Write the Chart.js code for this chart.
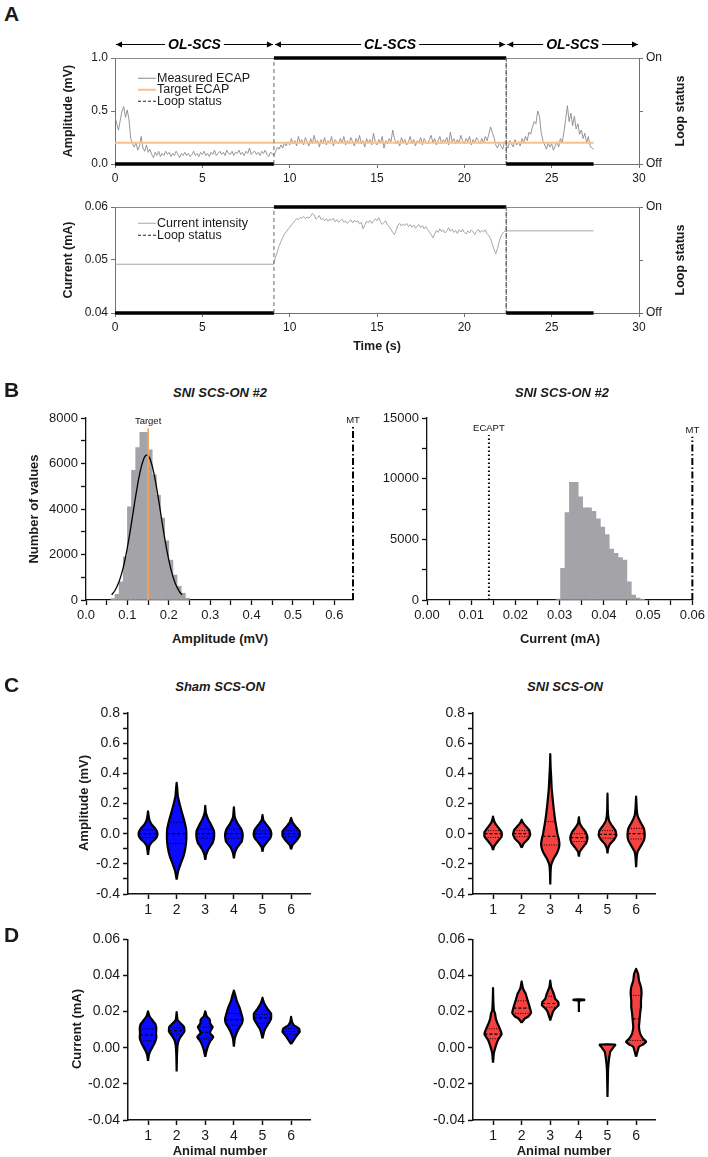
<!DOCTYPE html>
<html>
<head>
<meta charset="utf-8">
<title>SCS closed-loop ECAP figure</title>
<script src="https://cdn.jsdelivr.net/npm/chart.js@4.4.1/dist/chart.umd.min.js"></script>
<style>
  html, body { margin: 0; padding: 0; background: #fff; }
  body { position: relative; width: 708px; height: 1157px; overflow: hidden;
         font-family: "Liberation Sans", Arial, Helvetica, sans-serif; color: #1a1a1a; }
  .box { position: absolute; }
  .t { position: absolute; white-space: nowrap; line-height: 1; transform: translate(-50%, -50%); }
  .letter { font-weight: bold; font-size: 21px; transform: translate(0, -50%); }
  .title { font-weight: bold; font-style: italic; font-size: 13px; }
  .axt { font-weight: bold; font-size: 13px; }
  .axa { font-weight: bold; font-size: 12.5px; }
  .rot { transform: translate(-50%, -50%) rotate(-90deg); }
  .leg { position: absolute; font-size: 12.5px; line-height: 1; white-space: nowrap; transform: translateY(-50%); }
  .leg i { display: inline-block; width: 18px; height: 0; vertical-align: middle; margin-right: 1px; }
</style>
</head>
<body>
<script>
// ---------- panel A : ECAP trace and current ----------
const ecapStep = 0.1; // seconds between samples
const ecapValues = [
  0.45, 0.38, 0.32, 0.41, 0.50, 0.54, 0.44, 0.51, 0.42, 0.24,
  0.19, 0.16, 0.20, 0.13, 0.17, 0.26, 0.15, 0.12, 0.18, 0.11,
  0.14, 0.09, 0.06, 0.11, 0.08, 0.12, 0.07, 0.10, 0.08, 0.12,
  0.09, 0.11, 0.07, 0.10, 0.08, 0.12, 0.09, 0.06, 0.10, 0.08,
  0.11, 0.08, 0.10, 0.07, 0.09, 0.12, 0.08, 0.10, 0.07, 0.11,
  0.09, 0.12, 0.08, 0.10, 0.07, 0.11, 0.09, 0.13, 0.08, 0.10,
  0.12, 0.09, 0.11, 0.08, 0.13, 0.10, 0.09, 0.12, 0.08, 0.11,
  0.10, 0.13, 0.09, 0.11, 0.08, 0.12, 0.10, 0.15, 0.09, 0.11,
  0.12, 0.09, 0.11, 0.08, 0.12, 0.10, 0.13, 0.09, 0.07, 0.11,
  0.10, 0.08, 0.12, 0.16, 0.14, 0.18, 0.15, 0.20, 0.17, 0.21,
  0.18, 0.24, 0.19, 0.22, 0.17, 0.26, 0.20, 0.23, 0.18, 0.25,
  0.21, 0.17, 0.24, 0.19, 0.27, 0.20, 0.22, 0.16, 0.23, 0.19,
  0.25, 0.18, 0.22, 0.20, 0.26, 0.17, 0.23, 0.21, 0.19, 0.24,
  0.20, 0.26, 0.18, 0.22, 0.19, 0.25, 0.21, 0.17, 0.24, 0.20,
  0.27, 0.19, 0.22, 0.16, 0.24, 0.20, 0.23, 0.18, 0.29, 0.21,
  0.18, 0.23, 0.20, 0.26, 0.15, 0.22, 0.19, 0.24, 0.21, 0.32,
  0.24, 0.19, 0.22, 0.17, 0.25, 0.20, 0.23, 0.18, 0.21, 0.26,
  0.19, 0.23, 0.17, 0.22, 0.20, 0.25, 0.18, 0.24, 0.21, 0.19,
  0.23, 0.27, 0.20, 0.24, 0.18, 0.22, 0.26, 0.19, 0.23, 0.21,
  0.25, 0.18, 0.30, 0.21, 0.24, 0.19, 0.23, 0.20, 0.27, 0.22,
  0.19, 0.24, 0.21, 0.26, 0.18, 0.23, 0.20, 0.25, 0.22, 0.19,
  0.24, 0.20, 0.26, 0.22, 0.28, 0.35, 0.30, 0.25, 0.18, 0.15,
  0.20, 0.17, 0.14, 0.21, 0.18, 0.15, 0.22, 0.19, 0.16, 0.23,
  0.18, 0.21, 0.17, 0.24, 0.20, 0.26, 0.22, 0.30, 0.28, 0.35,
  0.40, 0.38, 0.50, 0.45, 0.30, 0.22, 0.18, 0.14, 0.20, 0.16,
  0.19, 0.13, 0.17, 0.21, 0.16, 0.24, 0.20, 0.30, 0.42, 0.55,
  0.40, 0.48, 0.36, 0.45, 0.33, 0.38, 0.28, 0.32, 0.24, 0.29,
  0.20, 0.26, 0.17, 0.15, 0.14
];
const targetEcap = 0.2;
const traceEnd = 27.4;

const loopTimes = [0, 9.1, 9.1, 22.4, 22.4, 27.4];
const loopState = [0, 0, 1, 1, 0, 0];
const loopTicks = [0, 0.5, 1];
const loopTickLabels = ['Off', '', 'On'];

const phaseStart = [0, 9.1, 22.4];
const phaseEnd = [9.1, 22.4, 30];
const phaseLabels = ['OL-SCS', 'CL-SCS', 'OL-SCS'];

const timeTicks = [0, 5, 10, 15, 20, 25, 30];
const ampTicksA = [0, 0.5, 1];
const currentTicksA = [0.04, 0.05, 0.06];

const currentOpenLevels = [0.0492, 0.0555]; // before / after closed loop
const clStart = 9.1;
const clStep = 0.1;
const clCurrent = [
  0.0495, 0.0506, 0.0516, 0.0527, 0.0535, 0.0542, 0.0549, 0.0553, 0.0558,
  0.0561, 0.0566, 0.0570, 0.0574, 0.0578, 0.0576, 0.0580, 0.0579, 0.0582, 0.0578,
  0.0581, 0.0579, 0.0583, 0.0588, 0.0585, 0.0577, 0.0580, 0.0584, 0.0576, 0.0579,
  0.0574, 0.0578, 0.0573, 0.0577, 0.0575, 0.0579, 0.0572, 0.0576, 0.0571, 0.0574,
  0.0577, 0.0571, 0.0574, 0.0569, 0.0573, 0.0576, 0.0570, 0.0575, 0.0572, 0.0574,
  0.0568, 0.0571, 0.0559, 0.0566, 0.0573, 0.0570, 0.0575, 0.0569, 0.0573, 0.0578,
  0.0574, 0.0580, 0.0572, 0.0567, 0.0571, 0.0574, 0.0566, 0.0563, 0.0558, 0.0552,
  0.0548, 0.0556, 0.0566, 0.0569, 0.0564, 0.0568, 0.0565, 0.0569, 0.0563, 0.0567,
  0.0562, 0.0566, 0.0560, 0.0564, 0.0567, 0.0561, 0.0565, 0.0559, 0.0563, 0.0557,
  0.0553, 0.0548, 0.0542, 0.0549, 0.0556, 0.0552, 0.0559, 0.0553, 0.0557, 0.0551,
  0.0555, 0.0561, 0.0554, 0.0558, 0.0552, 0.0556, 0.0550, 0.0557, 0.0553, 0.0558,
  0.0552, 0.0549, 0.0555, 0.0551, 0.0557, 0.0553, 0.0548, 0.0554, 0.0558, 0.0552,
  0.0556, 0.0553, 0.0557, 0.0550, 0.0546, 0.0540, 0.0530, 0.0520, 0.0512, 0.0522,
  0.0535, 0.0545, 0.0551, 0.0554, 0.0555
];

// ---------- panel B : histograms ----------
const ampBinCenters = [0.065, 0.075, 0.085, 0.095, 0.105, 0.115, 0.125, 0.135, 0.145, 0.155,
                       0.165, 0.175, 0.185, 0.195, 0.205, 0.215, 0.225, 0.235, 0.245];
const ampCounts = [60, 250, 800, 1900, 4100, 5700, 6700, 7370, 7370, 6600,
                   5500, 4600, 3600, 2600, 1750, 1100, 600, 300, 80];
const fitX = [0.062, 0.07, 0.08, 0.09, 0.10, 0.11, 0.12, 0.13, 0.14, 0.147,
              0.155, 0.165, 0.175, 0.185, 0.195, 0.205, 0.215, 0.225, 0.232];
const fitY = [230, 420, 810, 1430, 2310, 3400, 4560, 5580, 6230, 6370,
              6190, 5490, 4450, 3280, 2210, 1360, 760, 390, 230];
const ampMarkers = [0.15, 0.645];
const ampMarkerNames = ['Target', 'MT'];
const ampMarkerTops = [7550, 7600];
const ampXMajor = [0, 0.1, 0.2, 0.3, 0.4, 0.5, 0.6];
const ampXMinor = [0.05, 0.15, 0.25, 0.35, 0.45, 0.55];
const countMajorA = [0, 2000, 4000, 6000, 8000];
const countMinorA = [1000, 3000, 5000, 7000];

const curBinCenters = [0.0297, 0.0307, 0.0317, 0.0327, 0.0337, 0.0347, 0.0357, 0.0367, 0.0377, 0.0387,
                       0.0397, 0.0407, 0.0417, 0.0427, 0.0437, 0.0447, 0.0457, 0.0467, 0.0477, 0.0487];
const curCounts = [80, 2600, 7200, 9700, 9700, 8500, 7600, 7600, 7300, 6700,
                   6000, 5400, 4200, 3850, 3500, 3300, 1500, 400, 150, 60];
const curMarkers = [0.014, 0.06];
const curMarkerNames = ['ECAPT', 'MT'];
const curMarkerTops = [13600, 13450];
const curXMajor = [0, 0.01, 0.02, 0.03, 0.04, 0.05, 0.06];
const curXMinor = [0.005, 0.015, 0.025, 0.035, 0.045, 0.055];
const countMajorB = [0, 5000, 10000, 15000];
const countMinorB = [2500, 7500, 12500];

// ---------- panels C & D : violins (levels in axis units, half widths in animal units) ----------
const animals = [1, 2, 3, 4, 5, 6];

const shamAmpLevels = [
  [-0.141, -0.11, -0.08, -0.06, -0.04, -0.02, 0.0, 0.02, 0.04, 0.06, 0.09, 0.12, 0.148],
  [-0.304, -0.25, -0.2, -0.15, -0.09, -0.03, 0.03, 0.09, 0.15, 0.2, 0.25, 0.3, 0.337],
  [-0.174, -0.14, -0.1, -0.06, -0.02, 0.02, 0.06, 0.1, 0.14, 0.185],
  [-0.163, -0.13, -0.09, -0.05, -0.01, 0.03, 0.07, 0.11, 0.174],
  [-0.12, -0.09, -0.06, -0.03, 0.0, 0.03, 0.06, 0.09, 0.124],
  [-0.104, -0.075, -0.045, -0.015, 0.015, 0.045, 0.075, 0.104]
];
const shamAmpWidths = [
  [0, 0.02, 0.05, 0.12, 0.23, 0.31, 0.33, 0.30, 0.23, 0.13, 0.05, 0.02, 0],
  [0, 0.05, 0.14, 0.24, 0.31, 0.34, 0.33, 0.26, 0.17, 0.10, 0.04, 0.02, 0],
  [0, 0.03, 0.12, 0.26, 0.31, 0.30, 0.20, 0.09, 0.02, 0],
  [0, 0.03, 0.12, 0.28, 0.31, 0.26, 0.12, 0.03, 0],
  [0, 0.03, 0.14, 0.27, 0.31, 0.26, 0.14, 0.03, 0],
  [0, 0.05, 0.19, 0.30, 0.30, 0.17, 0.05, 0]
];
const shamAmpMedians = [0, 0, 0, 0, 0, 0];
const shamAmpQuartiles = [[-0.025, 0.025], [-0.065, 0.075], [-0.03, 0.03], [-0.03, 0.03], [-0.025, 0.02], [-0.02, 0.02]];

const sniAmpLevels = [
  [-0.109, -0.08, -0.05, -0.02, 0.01, 0.04, 0.07, 0.09, 0.113],
  [-0.093, -0.065, -0.035, -0.005, 0.025, 0.055, 0.075, 0.093],
  [-0.337, -0.26, -0.21, -0.165, -0.13, -0.095, -0.065, -0.03, 0.0, 0.045, 0.09, 0.15, 0.22, 0.3, 0.38, 0.45, 0.528],
  [-0.152, -0.12, -0.09, -0.06, -0.026, 0.01, 0.04, 0.07, 0.109],
  [-0.13, -0.1, -0.07, -0.04, -0.01, 0.02, 0.05, 0.08, 0.11, 0.16, 0.265],
  [-0.222, -0.16, -0.12, -0.08, -0.04, 0.0, 0.04, 0.08, 0.12, 0.17, 0.246]
];
const sniAmpWidths = [
  [0, 0.05, 0.17, 0.30, 0.30, 0.19, 0.07, 0.03, 0],
  [0, 0.07, 0.23, 0.30, 0.26, 0.12, 0.04, 0],
  [0, 0.01, 0.03, 0.12, 0.23, 0.30, 0.32, 0.29, 0.25, 0.21, 0.17, 0.13, 0.09, 0.05, 0.03, 0.01, 0],
  [0, 0.03, 0.14, 0.26, 0.30, 0.24, 0.12, 0.03, 0],
  [0, 0.02, 0.09, 0.23, 0.31, 0.28, 0.17, 0.07, 0.03, 0.01, 0],
  [0, 0.02, 0.05, 0.17, 0.28, 0.30, 0.26, 0.14, 0.05, 0.02, 0]
];
const sniAmpMedians = [0, 0, -0.017, -0.026, -0.005, 0];
const sniAmpQuartiles = [[-0.025, 0.02], [-0.02, 0.02], [-0.075, 0.08], [-0.052, 0.0], [-0.03, 0.02], [-0.035, 0.035]];

const shamCurLevels = [
  [-0.0073, -0.004, -0.0015, 0.0008, 0.003, 0.0055, 0.008, 0.0105, 0.013, 0.0155, 0.0175, 0.0202],
  [-0.0132, -0.005, 0.001, 0.004, 0.0065, 0.009, 0.0115, 0.0135, 0.0155, 0.0198],
  [-0.005, -0.002, 0.001, 0.0035, 0.006, 0.008, 0.0095, 0.0115, 0.0135, 0.0155, 0.0175, 0.0202],
  [0.0006, 0.005, 0.0079, 0.0106, 0.0134, 0.016, 0.019, 0.0226, 0.026, 0.029, 0.0317],
  [0.0051, 0.0085, 0.0106, 0.0134, 0.0161, 0.019, 0.0217, 0.025, 0.0277],
  [0.002, 0.0045, 0.007, 0.0088, 0.0106, 0.0125, 0.0143, 0.0171]
];
const shamCurWidths = [
  [0, 0.03, 0.09, 0.17, 0.24, 0.29, 0.28, 0.29, 0.26, 0.14, 0.05, 0],
  [0, 0.01, 0.03, 0.07, 0.16, 0.27, 0.26, 0.14, 0.03, 0],
  [0, 0.04, 0.10, 0.17, 0.28, 0.17, 0.19, 0.26, 0.17, 0.16, 0.05, 0],
  [0, 0.03, 0.09, 0.17, 0.28, 0.31, 0.26, 0.19, 0.10, 0.05, 0],
  [0, 0.05, 0.10, 0.21, 0.30, 0.30, 0.17, 0.05, 0],
  [0, 0.10, 0.21, 0.30, 0.28, 0.10, 0.03, 0]
];
const shamCurMedians = [0.007, 0.0095, 0.0085, 0.0155, 0.0165, 0.009];
const shamCurQuartiles = [[0.004, 0.0105], [0.0075, 0.011], [0.005, 0.0115], [0.0125, 0.019], [0.0135, 0.0185], [0.0075, 0.0105]];

const sniCurLevels = [
  [-0.0083, -0.003, 0.0006, 0.0042, 0.0075, 0.0097, 0.0134, 0.016, 0.019, 0.0207, 0.026, 0.033],
  [0.0138, 0.016, 0.0174, 0.0193, 0.0226, 0.0262, 0.03, 0.0327, 0.0367],
  [0.0152, 0.0198, 0.0217, 0.0235, 0.0253, 0.0272, 0.029, 0.0308, 0.0336, 0.0372],
  [0.0198, 0.026, 0.0264, 0.0267, 0.0268],
  [-0.0273, -0.012, -0.0068, -0.0022, 0.0004, 0.0014, 0.0018, 0.0019],
  [-0.005, 0.0006, 0.0018, 0.0033, 0.0051, 0.0079, 0.0116, 0.0152, 0.019, 0.0226, 0.0262, 0.03, 0.0336, 0.0372, 0.041, 0.0437]
];
const sniCurWidths = [
  [0, 0.03, 0.09, 0.17, 0.30, 0.26, 0.16, 0.10, 0.07, 0.03, 0.01, 0],
  [0, 0.10, 0.24, 0.33, 0.28, 0.21, 0.14, 0.05, 0],
  [0, 0.09, 0.17, 0.29, 0.28, 0.17, 0.14, 0.10, 0.03, 0],
  [0, 0.01, 0.19, 0.19, 0],
  [0, 0.02, 0.05, 0.10, 0.21, 0.27, 0.27, 0],
  [0, 0.10, 0.24, 0.35, 0.24, 0.14, 0.10, 0.12, 0.14, 0.17, 0.17, 0.19, 0.17, 0.10, 0.07, 0]
];
const sniCurMedians = [0.0075, 0.022, 0.0245, null, null, 0.016];
const sniCurQuartiles = [[0.005, 0.0105], [0.019, 0.026], [0.0225, 0.0285], null, null, [0.004, 0.029]];

const ampMajorC = [-0.4, -0.2, 0, 0.2, 0.4, 0.6, 0.8];
const ampMinorC = [-0.3, -0.1, 0.1, 0.3, 0.5, 0.7];
const curMajorD = [-0.04, -0.02, 0, 0.02, 0.04, 0.06];

// ---------- helpers ----------
const FONT = '"Liberation Sans", Arial, Helvetica, sans-serif';
Chart.defaults.font.family = FONT;
Chart.defaults.color = '#1a1a1a';
Chart.defaults.animation = false;
Chart.defaults.events = [];
Chart.defaults.plugins.legend.display = false;
Chart.defaults.plugins.tooltip.enabled = false;
Chart.defaults.elements.point.radius = 0;
Chart.defaults.elements.point.hitRadius = 0;

function box(left, top, w, h) {
  const d = document.createElement('div');
  d.className = 'box';
  d.style.cssText = 'left:' + left + 'px;top:' + top + 'px;width:' + w + 'px;height:' + h + 'px';
  const c = document.createElement('canvas');
  c.width = w; c.height = h;
  c.style.width = w + 'px'; c.style.height = h + 'px';
  d.appendChild(c);
  document.body.appendChild(d);
  return c;
}
function text(str, x, y, cls) {
  const d = document.createElement('div');
  d.className = 't ' + cls;
  d.style.left = x + 'px'; d.style.top = y + 'px';
  d.textContent = str;
  document.body.appendChild(d);
}
function legendRow(x, y, swatch, str) {
  const d = document.createElement('div');
  d.className = 'leg';
  d.style.left = x + 'px'; d.style.top = y + 'px';
  d.innerHTML = '<i style="border-top:' + swatch + '"></i>' + str;
  document.body.appendChild(d);
}

const fixed = size => s => { if (s.isHorizontal()) s.height = size; else s.width = size; };
const listTicks = values => s => { s.ticks = values.slice().sort((a, b) => a - b).map(v => ({ value: v })); };
const isMajor = (majors, v) => majors.some(m => Math.abs(m - v) < 1e-9);

function ax(st, o) {
  const t = Object.assign({ color: '#1a1a1a', font: { size: st.font }, padding: st.pad, autoSkip: false, maxRotation: 0 }, o.ticks || {});
  return Object.assign({
    grid: { drawOnChartArea: false, tickLength: st.tick, color: st.color, tickWidth: st.width, offset: false },
    border: { color: st.color, width: st.width }
  }, o, { ticks: t });
}
const stA = { font: 12, tick: 4, pad: 3, color: '#707070', width: 1 };
const stB = { font: 13, tick: 5, pad: 3, color: '#111', width: 1.3 };
const stC = { font: 14, tick: 5, pad: 3, color: '#111', width: 1.5 };

// grey frame line along the top of the A plots, under the data
const topFrame = {
  id: 'topFrame',
  beforeDatasetsDraw(c) {
    const a = c.chartArea, ctx = c.ctx;
    ctx.save();
    ctx.strokeStyle = '#8a8a8a'; ctx.lineWidth = 1;
    ctx.beginPath(); ctx.moveTo(a.left, a.top + 0.5); ctx.lineTo(a.right, a.top + 0.5); ctx.stroke();
    ctx.restore();
  }
};

const phaseArrows = {
  id: 'phaseArrows',
  afterDraw(c) {
    const x = c.scales.x, ctx = c.ctx, y = c.chartArea.top - 14;
    const head = (px, dir) => {
      ctx.beginPath(); ctx.moveTo(px, y + 0.5); ctx.lineTo(px - dir * 6, y - 2.5); ctx.lineTo(px - dir * 6, y + 3.5); ctx.closePath(); ctx.fill();
    };
    ctx.save();
    ctx.font = 'italic bold 14px ' + FONT;
    ctx.textAlign = 'center'; ctx.textBaseline = 'middle';
    ctx.fillStyle = '#000'; ctx.strokeStyle = '#000'; ctx.lineWidth = 1;
    phaseStart.forEach((s, i) => {
      const x0 = x.getPixelForValue(s) + 1, x1 = x.getPixelForValue(phaseEnd[i]) - 1;
      const mid = (x0 + x1) / 2, half = ctx.measureText(phaseLabels[i]).width / 2 + 3;
      ctx.beginPath();
      ctx.moveTo(x0, y + 0.5); ctx.lineTo(mid - half, y + 0.5);
      ctx.moveTo(mid + half, y + 0.5); ctx.lineTo(x1, y + 0.5);
      ctx.stroke();
      head(x0, -1); head(x1, 1);
      ctx.fillText(phaseLabels[i], mid, y + 1);
    });
    ctx.restore();
  }
};

function markerText(values, names, tops) {
  return {
    id: 'markerText',
    afterDatasetsDraw(c) {
      const ctx = c.ctx, x = c.scales.x, y = c.scales.y;
      ctx.save();
      ctx.font = '9.5px ' + FONT; ctx.fillStyle = '#111';
      ctx.textAlign = 'center'; ctx.textBaseline = 'bottom';
      values.forEach((v, i) => ctx.fillText(names[i], x.getPixelForValue(v), y.getPixelForValue(tops[i]) - 2));
      ctx.restore();
    }
  };
}

function loopDataset() {
  const vertical = c => c.p0.parsed.x === c.p1.parsed.x;
  return {
    yAxisID: 'yLoop',
    data: loopTimes.map((t, i) => ({ x: t, y: loopState[i] })),
    borderColor: '#000', borderWidth: 3.5, clip: 8,
    segment: {
      borderWidth: c => vertical(c) ? 1 : 3.5,
      borderColor: c => vertical(c) ? '#666' : '#000',
      borderDash: c => vertical(c) ? [4, 3] : []
    }
  };
}
const vline = (x, top) => [{ x: x, y: 0 }, { x: x, y: top }];
const dashDot = [7, 2.5, 1.5, 2.5];

// ---------- panel A ----------
const ecapPts = ecapValues.map((v, i) => ({ x: i * ecapStep, y: v }));
new Chart(box(0, 30, 708, 155), {
  type: 'line',
  data: { datasets: [
    loopDataset(),
    { data: [{ x: 0, y: targetEcap }, { x: traceEnd, y: targetEcap }], borderColor: '#f9c08c', borderWidth: 2 },
    { data: ecapPts, borderColor: '#8a8a8a', borderWidth: 0.9 }
  ]},
  options: {
    responsive: false,
    layout: { padding: { top: 28, left: 0, right: 0, bottom: 0 } },
    scales: {
      x: ax(stA, { type: 'linear', min: 0, max: 30, afterFit: fixed(21), afterBuildTicks: listTicks(timeTicks) }),
      y: ax(stA, { position: 'left', min: 0, max: 1, afterFit: fixed(115), afterBuildTicks: listTicks(ampTicksA),
                   ticks: { callback: v => v.toFixed(1) } }),
      yLoop: ax(stA, { position: 'right', min: 0, max: 1, afterFit: fixed(69), afterBuildTicks: listTicks(loopTicks),
                       ticks: { callback: (v, i) => loopTickLabels[i] } })
    }
  },
  plugins: [topFrame, phaseArrows]
});

const currentPts = [{ x: 0, y: currentOpenLevels[0] }, { x: clStart, y: currentOpenLevels[0] }]
  .concat(clCurrent.map((v, i) => ({ x: clStart + i * clStep, y: v })))
  .concat([{ x: traceEnd, y: currentOpenLevels[1] }]);
new Chart(box(0, 190, 708, 150), {
  type: 'line',
  data: { datasets: [
    loopDataset(),
    { data: currentPts, borderColor: '#a6a6a6', borderWidth: 1 }
  ]},
  options: {
    responsive: false,
    layout: { padding: { top: 17, left: 0, right: 0, bottom: 0 } },
    scales: {
      x: ax(stA, { type: 'linear', min: 0, max: 30, afterFit: fixed(27), afterBuildTicks: listTicks(timeTicks) }),
      y: ax(stA, { position: 'left', min: 0.04, max: 0.06, afterFit: fixed(115), afterBuildTicks: listTicks(currentTicksA),
                   ticks: { callback: v => v.toFixed(2) } }),
      yLoop: ax(stA, { position: 'right', min: 0, max: 1, afterFit: fixed(69), afterBuildTicks: listTicks(loopTicks),
                       ticks: { callback: (v, i) => loopTickLabels[i] } })
    }
  },
  plugins: [topFrame]
});

// ---------- panel B ----------
new Chart(box(0, 400, 360, 225), {
  type: 'bar',
  data: { datasets: [
    { type: 'line', data: vline(ampMarkers[0], ampMarkerTops[0]), borderColor: '#f2a35a', borderWidth: 1.6 },
    { type: 'line', data: vline(ampMarkers[1], ampMarkerTops[1]), borderColor: '#000', borderWidth: 2, borderDash: dashDot, clip: 4 },
    { type: 'line', data: fitX.map((x, i) => ({ x: x, y: fitY[i] })), borderColor: '#000', borderWidth: 1.3, tension: 0.4 },
    { data: ampBinCenters.map((x, i) => ({ x: x, y: ampCounts[i] })), backgroundColor: '#a4a4a8',
      barPercentage: 1, categoryPercentage: 1, borderWidth: 0 }
  ]},
  options: {
    responsive: false,
    layout: { padding: { top: 18, right: 7, left: 0, bottom: 0 } },
    scales: {
      x: ax(stB, { type: 'linear', min: 0, max: 0.645, offset: false, afterFit: fixed(25),
                   afterBuildTicks: listTicks(ampXMajor.concat(ampXMinor)),
                   ticks: { callback: v => isMajor(ampXMajor, v) ? v.toFixed(1) : '' } }),
      y: ax(stB, { min: 0, max: 8000, afterFit: fixed(86), afterBuildTicks: listTicks(countMajorA.concat(countMinorA)),
                   ticks: { callback: v => isMajor(countMajorA, v) ? String(v) : '' } })
    }
  },
  plugins: [markerText(ampMarkers, ampMarkerNames, ampMarkerTops)]
});

new Chart(box(354, 400, 354, 225), {
  type: 'bar',
  data: { datasets: [
    { type: 'line', data: vline(curMarkers[0], curMarkerTops[0]), borderColor: '#000', borderWidth: 2, borderDash: [1.5, 2.5] },
    { type: 'line', data: vline(curMarkers[1], curMarkerTops[1]), borderColor: '#000', borderWidth: 2, borderDash: dashDot, clip: 4 },
    { data: curBinCenters.map((x, i) => ({ x: x, y: curCounts[i] })), backgroundColor: '#a4a4a8',
      barPercentage: 1, categoryPercentage: 1, borderWidth: 0 }
  ]},
  options: {
    responsive: false,
    layout: { padding: { top: 18, right: 15, left: 0, bottom: 0 } },
    scales: {
      x: ax(stB, { type: 'linear', min: 0, max: 0.06, offset: false, afterFit: fixed(25),
                   afterBuildTicks: listTicks(curXMajor.concat(curXMinor)),
                   ticks: { callback: v => isMajor(curXMajor, v) ? v.toFixed(2) : '' } }),
      y: ax(stB, { min: 0, max: 15000, afterFit: fixed(73), afterBuildTicks: listTicks(countMajorB.concat(countMinorB)),
                   ticks: { callback: v => isMajor(countMajorB, v) ? String(v) : '' } })
    }
  },
  plugins: [markerText(curMarkers, curMarkerNames, curMarkerTops)]
});

// ---------- panels C & D ----------
function widthAt(lv, wd, v) {
  for (let i = 1; i < lv.length; i++) {
    if (v <= lv[i]) { const f = (v - lv[i - 1]) / (lv[i] - lv[i - 1]); return wd[i - 1] + f * (wd[i] - wd[i - 1]); }
  }
  return 0;
}
function outline(a, lv, wd) {
  const right = lv.map((y, i) => ({ x: a + wd[i], y: y }));
  const left = lv.map((y, i) => ({ x: a - wd[i], y: y })).reverse();
  return right.concat(left);
}
function violinChart(canvas, cfg) {
  const sets = [];
  animals.forEach((a, i) => {
    const lv = cfg.levels[i], wd = cfg.widths[i];
    const seg = (v, dash, w) => {
      const h = widthAt(lv, wd, v);
      sets.push({ data: [{ x: a - h, y: v }, { x: a + h, y: v }], borderColor: '#000', borderWidth: w, borderDash: dash });
    };
    if (cfg.medians[i] !== null) seg(cfg.medians[i], [3, 2], 1.2);
    if (cfg.quartiles[i]) cfg.quartiles[i].forEach(q => seg(q, [1, 1.5], 1));
  });
  animals.forEach((a, i) => sets.push({
    data: outline(a, cfg.levels[i], cfg.widths[i]), fill: 'shape', backgroundColor: cfg.color,
    borderColor: '#000', borderWidth: 2.2, tension: 0.1, borderJoinStyle: 'round'
  }));
  return new Chart(canvas, {
    type: 'line',
    data: { datasets: sets },
    options: {
      responsive: false,
      layout: { padding: { top: cfg.padTop, right: cfg.padRight, left: 0, bottom: 0 } },
      scales: {
        x: ax(stC, { type: 'linear', min: 0.3, max: 6.66, afterFit: fixed(cfg.xH), afterBuildTicks: listTicks(animals),
                     ticks: { callback: v => String(v) } }),
        y: ax(stC, { min: cfg.yMin, max: cfg.yMax, afterFit: fixed(cfg.yW),
                     afterBuildTicks: listTicks(cfg.yMajor.concat(cfg.yMinor)),
                     ticks: { callback: v => isMajor(cfg.yMajor, v) ? v.toFixed(cfg.digits) : '' } })
      }
    }
  });
}

const blue = '#0a0aff', red = '#f5413f';
violinChart(box(0, 700, 354, 225), { levels: shamAmpLevels, widths: shamAmpWidths, medians: shamAmpMedians, quartiles: shamAmpQuartiles,
  color: blue, yMin: -0.4, yMax: 0.8, yMajor: ampMajorC, yMinor: ampMinorC, digits: 1, yW: 128, xH: 31, padTop: 13, padRight: 44 });
violinChart(box(354, 700, 354, 225), { levels: sniAmpLevels, widths: sniAmpWidths, medians: sniAmpMedians, quartiles: sniAmpQuartiles,
  color: red, yMin: -0.4, yMax: 0.8, yMajor: ampMajorC, yMinor: ampMinorC, digits: 1, yW: 119, xH: 31, padTop: 13, padRight: 53 });
violinChart(box(0, 928, 354, 229), { levels: shamCurLevels, widths: shamCurWidths, medians: shamCurMedians, quartiles: shamCurQuartiles,
  color: blue, yMin: -0.04, yMax: 0.06, yMajor: curMajorD, yMinor: [], digits: 2, yW: 128, xH: 37, padTop: 10, padRight: 44 });
violinChart(box(354, 928, 354, 229), { levels: sniCurLevels, widths: sniCurWidths, medians: sniCurMedians, quartiles: sniCurQuartiles,
  color: red, yMin: -0.04, yMax: 0.06, yMajor: curMajorD, yMinor: [], digits: 2, yW: 119, xH: 37, padTop: 10, padRight: 53 });

// ---------- text ----------
text('A', 4, 13, 'letter');
text('B', 4, 389, 'letter');
text('C', 4, 684, 'letter');
text('D', 4, 934, 'letter');

legendRow(138, 78, '1px solid #8a8a8a', 'Measured ECAP');
legendRow(138, 89, '2px solid #f9c08c', 'Target ECAP');
legendRow(138, 101, '1px dashed #222', 'Loop status');
legendRow(138, 223, '1px solid #a6a6a6', 'Current intensity');
legendRow(138, 235, '1px dashed #222', 'Loop status');

text('Amplitude (mV)', 68, 111, 'axa rot');
text('Loop status', 680, 111, 'axa rot');
text('Current (mA)', 68, 260, 'axa rot');
text('Loop status', 680, 260, 'axa rot');
text('Time (s)', 377, 346, 'axa');

text('SNI SCS-ON #2', 220, 392, 'title');
text('SNI SCS-ON #2', 562, 392, 'title');
text('Number of values', 33, 509, 'axt rot');
text('Amplitude (mV)', 220, 638, 'axt');
text('Current (mA)', 560, 638, 'axt');

text('Sham SCS-ON', 220, 686, 'title');
text('SNI SCS-ON', 565, 686, 'title');
text('Amplitude (mV)', 83, 803, 'axt rot');
text('Current (mA)', 76, 1029, 'axt rot');
text('Animal number', 220, 1150, 'axt');
text('Animal number', 564, 1150, 'axt');
</script>
</body>
</html>
